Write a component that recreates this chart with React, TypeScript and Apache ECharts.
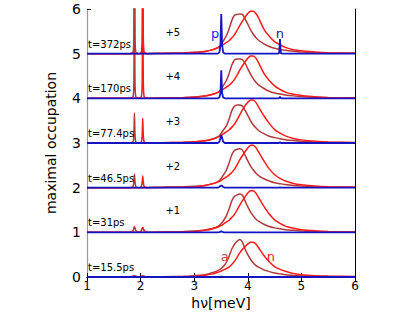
import React, { useEffect, useRef } from "react";
import * as echarts from "echarts";

// broad-peak energy grid (meV)
const xs = [1, 2.4, 2.8, 3.0, 3.2, 3.35, 3.45, 3.5, 3.55, 3.6, 3.65, 3.7, 3.75, 3.8, 3.85, 3.9, 3.95, 4.0, 4.05, 4.1, 4.15, 4.2, 4.3, 4.4, 4.5, 4.6, 4.7, 4.85, 5.0, 5.25, 5.5, 6];

// "a" (brown) occupation, panel 0..5
const a0 = [0, 0.005, 0.015, 0.03, 0.05, 0.1, 0.15, 0.19, 0.24, 0.33, 0.46, 0.62, 0.73, 0.8, 0.84, 0.78, 0.62, 0.5, 0.4, 0.32, 0.26, 0.22, 0.16, 0.12, 0.09, 0.07, 0.05, 0.035, 0.025, 0.015, 0.01, 0.005];
const a1 = [0, 0.008, 0.018, 0.03, 0.05, 0.09, 0.14, 0.19, 0.27, 0.37, 0.52, 0.7, 0.8, 0.84, 0.86, 0.83, 0.7, 0.57, 0.46, 0.37, 0.3, 0.25, 0.18, 0.13, 0.1, 0.08, 0.06, 0.045, 0.032, 0.02, 0.012, 0.006];
const a2 = [0, 0.008, 0.018, 0.03, 0.05, 0.09, 0.14, 0.2, 0.29, 0.39, 0.55, 0.73, 0.83, 0.86, 0.87, 0.84, 0.72, 0.6, 0.49, 0.4, 0.33, 0.27, 0.2, 0.15, 0.11, 0.09, 0.07, 0.05, 0.037, 0.022, 0.014, 0.007];
const a3 = [0, 0.008, 0.018, 0.03, 0.05, 0.09, 0.14, 0.21, 0.3, 0.38, 0.53, 0.72, 0.82, 0.85, 0.85, 0.83, 0.73, 0.62, 0.5, 0.41, 0.34, 0.28, 0.21, 0.15, 0.12, 0.095, 0.075, 0.055, 0.04, 0.024, 0.015, 0.008];
const a4 = [0, 0.01, 0.02, 0.03, 0.05, 0.09, 0.14, 0.2, 0.3, 0.4, 0.55, 0.74, 0.86, 0.88, 0.88, 0.87, 0.78, 0.66, 0.54, 0.44, 0.36, 0.3, 0.22, 0.16, 0.12, 0.095, 0.075, 0.055, 0.04, 0.025, 0.015, 0.008];
const a5 = [0, 0.01, 0.02, 0.03, 0.05, 0.09, 0.14, 0.2, 0.3, 0.4, 0.55, 0.74, 0.86, 0.88, 0.89, 0.88, 0.78, 0.66, 0.54, 0.44, 0.36, 0.3, 0.22, 0.16, 0.12, 0.095, 0.075, 0.055, 0.04, 0.025, 0.015, 0.008];

// "n" (red) occupation, panel 0..5
const n0 = [0, 0.003, 0.008, 0.012, 0.04, 0.07, 0.11, 0.13, 0.16, 0.19, 0.22, 0.28, 0.35, 0.44, 0.54, 0.62, 0.68, 0.74, 0.78, 0.78, 0.74, 0.66, 0.48, 0.34, 0.23, 0.17, 0.13, 0.08, 0.05, 0.03, 0.02, 0.01];
const n1 = [0, 0.004, 0.012, 0.02, 0.045, 0.08, 0.12, 0.15, 0.19, 0.23, 0.27, 0.33, 0.4, 0.5, 0.61, 0.71, 0.8, 0.88, 0.93, 0.93, 0.88, 0.78, 0.58, 0.41, 0.28, 0.2, 0.14, 0.09, 0.06, 0.035, 0.02, 0.01];
const n2 = [0, 0.005, 0.014, 0.022, 0.05, 0.09, 0.13, 0.16, 0.2, 0.24, 0.28, 0.34, 0.41, 0.51, 0.62, 0.72, 0.81, 0.89, 0.95, 0.95, 0.9, 0.8, 0.6, 0.42, 0.29, 0.21, 0.15, 0.095, 0.065, 0.035, 0.02, 0.01];
const n3 = [0, 0.005, 0.015, 0.025, 0.05, 0.09, 0.14, 0.17, 0.21, 0.25, 0.29, 0.35, 0.42, 0.52, 0.63, 0.74, 0.84, 0.91, 0.96, 0.96, 0.91, 0.81, 0.61, 0.44, 0.3, 0.22, 0.16, 0.1, 0.07, 0.04, 0.022, 0.01];
const n4 = [0, 0.005, 0.015, 0.025, 0.05, 0.09, 0.14, 0.17, 0.21, 0.25, 0.29, 0.35, 0.42, 0.52, 0.63, 0.73, 0.82, 0.9, 0.95, 0.95, 0.9, 0.8, 0.56, 0.4, 0.28, 0.2, 0.14, 0.09, 0.065, 0.035, 0.02, 0.01];
const n5 = [0, 0.005, 0.015, 0.025, 0.05, 0.09, 0.14, 0.17, 0.21, 0.25, 0.29, 0.35, 0.42, 0.52, 0.63, 0.73, 0.82, 0.9, 0.95, 0.95, 0.9, 0.8, 0.55, 0.39, 0.27, 0.2, 0.14, 0.09, 0.065, 0.035, 0.02, 0.01];

// narrow lines near 1.9 meV (brown) and 2.03 meV (red)
const spikeXsA = [1.8, 1.86, 1.875, 1.885, 1.895, 1.91, 1.96];
const spikeXsN = [1.97, 2.015, 2.03, 2.04, 2.05, 2.065, 2.12];
const sa0 = [0, 0.02, 0.03, 0.04, 0.03, 0.02, 0];
const sa1 = [0, 0.04, 0.1, 0.13, 0.1, 0.04, 0];
const sa2 = [0, 0.03, 0.15, 0.3, 0.15, 0.03, 0];
const sa3 = [0, 0.03, 0.2, 0.67, 0.2, 0.03, 0];
const sa4 = [0, 0.04, 0.4, 2.5, 0.4, 0.04, 0];
const sa5 = [0, 0.04, 0.4, 3.0, 0.4, 0.04, 0];
const sn0 = [0, 0.015, 0.025, 0.03, 0.025, 0.015, 0];
const sn1 = [0, 0.04, 0.09, 0.11, 0.09, 0.04, 0];
const sn2 = [0, 0.03, 0.13, 0.26, 0.13, 0.03, 0];
const sn3 = [0, 0.03, 0.18, 0.55, 0.18, 0.03, 0];
const sn4 = [0, 0.04, 0.4, 2.5, 0.4, 0.04, 0];
const sn5 = [0, 0.04, 0.4, 3.0, 0.4, 0.04, 0];

// "p" / "n" (blue) lines
const blueXs = [1, 3.44, 3.47, 3.49, 3.505, 3.52, 3.54, 3.57, 4.56, 4.585, 4.6, 4.615, 4.64, 6];
const p0 = [0, 0, 0.003, 0.006, 0.01, 0.006, 0.003, 0, 0, 0, 0, 0, 0, 0];
const p1 = [0, 0, 0.005, 0.015, 0.02, 0.015, 0.005, 0, 0, 0, 0, 0, 0, 0];
const p2 = [0, 0, 0.015, 0.04, 0.05, 0.04, 0.015, 0, 0, 0, 0.005, 0, 0, 0];
const p3 = [0, 0, 0.03, 0.12, 0.18, 0.12, 0.03, 0, 0, 0, 0.02, 0, 0, 0];
const p4 = [0, 0, 0.02, 0.12, 0.63, 0.12, 0.02, 0, 0, 0.005, 0.04, 0.005, 0, 0];
const p5 = [0, 0, 0.03, 0.2, 0.89, 0.2, 0.03, 0, 0, 0.01, 0.33, 0.01, 0, 0];

const times = ["t=15.5ps", "t=31ps", "t=46.5ps", "t=77.4ps", "t=170ps", "t=372ps"];
const offsets = ["", "+1", "+2", "+3", "+4", "+5"];

const A = [a0, a1, a2, a3, a4, a5];
const N = [n0, n1, n2, n3, n4, n5];
const SA = [sa0, sa1, sa2, sa3, sa4, sa5];
const SN = [sn0, sn1, sn2, sn3, sn4, sn5];
const P = [p0, p1, p2, p3, p4, p5];

const FONT = "DejaVu Sans";
const BROWN = "#b03a3a";
const RED = "#ff1a1a";
const BLUE = "#1414c4";

function build(base: number[], vals: number[], sx: number[], sv: number[], k: number) {
  const pts: [number, number][] = [];
  base.forEach((x, i) => pts.push([x, vals[i] + k]));
  sx.forEach((x, i) => pts.push([x, sv[i] + k]));
  pts.sort((p, q) => p[0] - q[0]);
  return pts;
}

export default function App() {
  const ref = useRef<HTMLDivElement>(null);
  useEffect(() => {
    document.body.style.margin = "0";
    const chart = echarts.init(ref.current!, null, { renderer: "svg" });
    const series: any[] = [];
    for (let k = 0; k < 6; k++) {
      series.push({
        type: "line", data: build(xs, A[k], spikeXsA, SA[k], k), symbol: "none",
        smooth: 0.2, lineStyle: { color: BROWN, width: 1.5 }, clip: true, z: 2 + k * 3,
      });
      series.push({
        type: "line", data: build(xs, N[k], spikeXsN, SN[k], k), symbol: "none",
        smooth: 0.2, lineStyle: { color: RED, width: 1.5 }, clip: true, z: 3 + k * 3,
      });
      series.push({
        type: "line", data: blueXs.map((x, i) => [x, P[k][i] + k]), symbol: "none",
        lineStyle: { color: BLUE, width: 1.8 }, clip: true, z: 4 + k * 3,
      });
    }
    const axisCommon = {
      type: "value", min: 1, max: 6, interval: 1, splitLine: { show: false },
    };
    chart.setOption({
      animation: false,
      grid: { left: 87, right: 60, top: 9, bottom: 35, show: false, containLabel: false, outerBoundsMode: "none" },
      xAxis: [
        {
          ...axisCommon, position: "bottom",
          axisLine: { lineStyle: { color: "#000", width: 1 } },
          axisTick: { inside: true, length: 4, lineStyle: { color: "#000" } },
          axisLabel: { fontFamily: FONT, fontSize: 12, lineHeight: 12, color: "#000", margin: 3 },
          name: "hν[meV]", nameLocation: "middle", nameGap: 19, nameMoveOverlap: false,
          nameTextStyle: { fontFamily: FONT, fontSize: 14, lineHeight: 14, color: "#000", verticalAlign: "top" },
        },
        {
          ...axisCommon, position: "top",
          axisLine: { lineStyle: { color: "#000", width: 1 } },
          axisTick: { inside: true, length: 4, lineStyle: { color: "#000" } },
          axisLabel: { show: false },
        },
      ],
      yAxis: [
        {
          type: "value", min: 0, max: 6, interval: 1, position: "left", splitLine: { show: false },
          axisLine: { show: true, lineStyle: { color: "#999", width: 1.2 } },
          axisTick: { inside: true, length: 4, lineStyle: { color: "#000" } },
          axisLabel: { fontFamily: FONT, fontSize: 14, color: "#000", margin: 6 },
          name: "maximal occupation", nameLocation: "middle", nameGap: 29,
          nameTextStyle: { fontFamily: FONT, fontSize: 14, color: "#000" },
        },
        {
          type: "value", min: 0, max: 6, interval: 1, position: "right", splitLine: { show: false },
          axisLine: { show: true, lineStyle: { color: "#000", width: 1 } },
          axisTick: { show: false }, axisLabel: { show: false },
        },
      ],
      series,
    });

    const px = (x: number, y: number) => chart.convertToPixel({ xAxisIndex: 0, yAxisIndex: 0 }, [x, y]) as number[];
    const graphic: any[] = [];
    for (let k = 0; k < 6; k++) {
      const t = px(1, k + 0.21);
      graphic.push({
        type: "text", x: t[0] + 1, y: t[1], z: 100,
        style: { text: times[k], fontFamily: FONT, fontSize: 10, fill: "#000", verticalAlign: "middle", align: "left" },
      });
      if (offsets[k]) {
        const o = px(2.6, k + 0.48);
        graphic.push({
          type: "text", x: o[0], y: o[1], z: 100,
          style: { text: offsets[k], fontFamily: FONT, fontSize: 10, fill: "#000", verticalAlign: "middle", align: "center" },
        });
      }
    }
    const tags: [string, number, number, string][] = [
      ["p", 3.39, 5.46, "#2020ff"],
      ["n", 4.6, 5.46, "#1a1a90"],
      ["a", 3.57, 0.45, "#b04848"],
      ["n", 4.43, 0.45, "#ff2020"],
    ];
    tags.forEach(([s, x, y, c]) => {
      const q = px(x, y);
      graphic.push({
        type: "text", x: q[0], y: q[1], z: 100,
        style: { text: s, fontFamily: FONT, fontSize: 13, fill: c, verticalAlign: "middle", align: "center" },
      });
    });
    chart.setOption({ graphic });
    return () => chart.dispose();
  }, []);
  return <div ref={ref} style={{ width: 415, height: 312 }} />;
}
